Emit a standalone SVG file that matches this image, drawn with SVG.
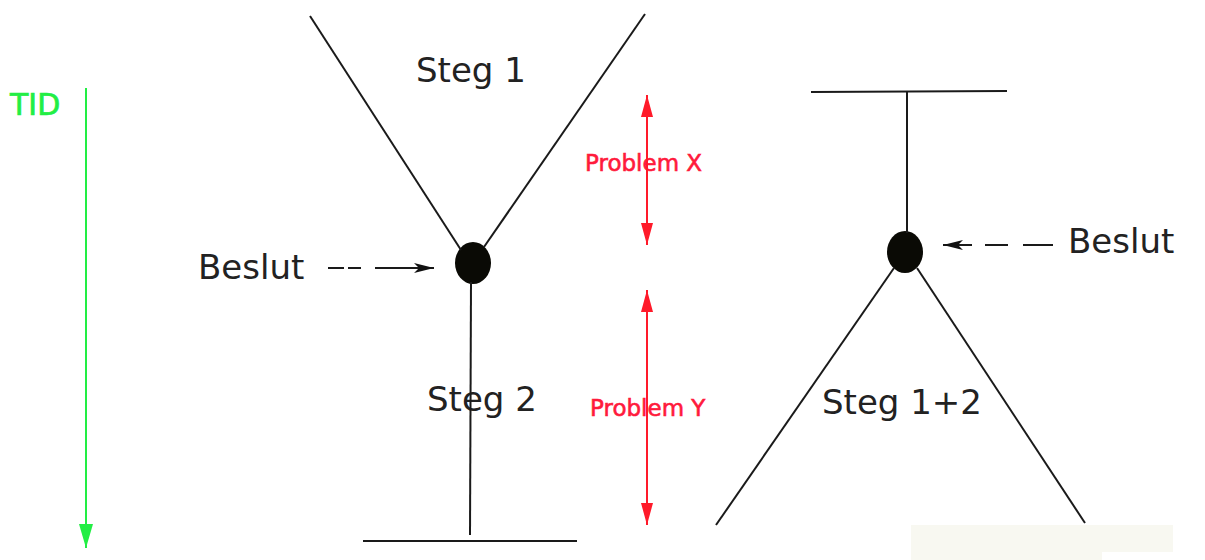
<svg xmlns="http://www.w3.org/2000/svg" width="1205" height="560" viewBox="0 0 1205 560">
<style>
.ln{stroke:#1a1a1a;stroke-width:2;fill:none}
.dot{fill:#0a0a05}
.lbl{font-family:"DejaVu Sans",Verdana,sans-serif;font-size:34px;fill:#222}
.red{font-family:"DejaVu Sans",Verdana,sans-serif;font-size:23px;fill:#ff1a3c;stroke:#ff1a3c;stroke-width:0.6}
.tid{font-family:"DejaVu Sans",Verdana,sans-serif;font-size:30px;fill:#22ee44;stroke:#22ee44;stroke-width:0.7}
</style>
<defs>
<marker id="ab" markerWidth="20" markerHeight="10" refX="20" refY="5" orient="auto" markerUnits="userSpaceOnUse"><path d="M0,0 L20,5 L0,10 L5,5 z" fill="#111"/></marker>
<marker id="ar" markerWidth="22" markerHeight="12" refX="22" refY="6" orient="auto-start-reverse" markerUnits="userSpaceOnUse"><path d="M0,0 L22,6 L0,12 z" fill="#ff1a2a"/></marker>
<marker id="ag" markerWidth="24" markerHeight="14" refX="24" refY="7" orient="auto" markerUnits="userSpaceOnUse"><path d="M0,0 L24,7 L0,14 z" fill="#22ee44"/></marker>
</defs>
<rect x="911" y="525" width="262" height="27" fill="#f8f8f1"/>
<rect x="911" y="552" width="191" height="8" fill="#f8f8f1"/>
<g id="tid">
<text class="tid" x="10" y="115">TID</text>
<line x1="86" y1="88" x2="86" y2="548" stroke="#22ee44" stroke-width="2" marker-end="url(#ag)"/>
</g>
<g id="left-node">
<ellipse class="dot" cx="473" cy="263" rx="18" ry="21"/>
<text class="lbl" x="416" y="82">Steg 1</text>
<text class="lbl" x="427" y="411">Steg 2</text>
<text class="lbl" x="198" y="279">Beslut</text>
</g>
<g id="right-node">
<ellipse class="dot" cx="905" cy="252" rx="18" ry="21"/>
<text class="lbl" x="1068" y="253">Beslut</text>
<text class="lbl" x="822" y="414">Steg 1+2</text>
</g>
<g id="problems">
<text class="red" x="585" y="171">Problem X</text>
<text class="red" x="590" y="416">Problem Y</text>
</g>
<g id="connectors">
<line class="ln" x1="310" y1="16" x2="461" y2="250"/>
<line class="ln" x1="645" y1="14" x2="484" y2="247"/>
<line class="ln" x1="471" y1="282" x2="470" y2="535"/>
<line class="ln" x1="363" y1="541" x2="577" y2="541"/>
<path class="ln" d="M328,268 H344 M348,268 H361 M375,268 H434" marker-end="url(#ab)"/>
<line class="ln" x1="811" y1="92" x2="1007" y2="91"/>
<line class="ln" x1="907" y1="92" x2="907" y2="233"/>
<line class="ln" x1="894" y1="268" x2="716" y2="525"/>
<line class="ln" x1="917" y1="268" x2="1085" y2="523"/>
<path class="ln" d="M1053,245 H1023 M1008,245 H985 M972,245 H943" marker-end="url(#ab)"/>
<line x1="647" y1="95" x2="647" y2="245" stroke="#ff1a2a" stroke-width="2" marker-start="url(#ar)" marker-end="url(#ar)"/>
<line x1="647" y1="290" x2="647" y2="525" stroke="#ff1a2a" stroke-width="2" marker-start="url(#ar)" marker-end="url(#ar)"/>
</g>
</svg>
